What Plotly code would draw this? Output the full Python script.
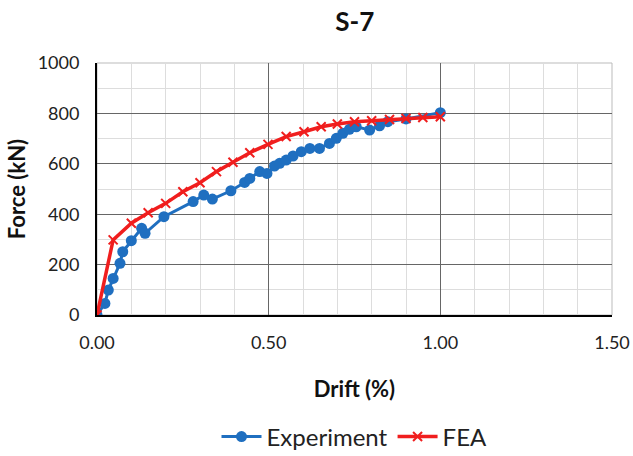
import plotly.graph_objects as go

exp_drift = [0.0, 0.023, 0.033, 0.047, 0.067, 0.075, 0.10, 0.13, 0.14, 0.195, 0.28,
             0.311, 0.336, 0.39, 0.43, 0.445, 0.474, 0.495, 0.517, 0.532, 0.551, 0.571,
             0.595, 0.62, 0.648, 0.677, 0.697, 0.716, 0.735, 0.755, 0.794, 0.823, 0.847,
             0.90, 1.0]
exp_force = [0, 46, 99, 145, 205, 251, 295, 344, 324, 390, 450,
             476, 460, 493, 526, 542, 569, 562, 591, 602, 615, 631,
             648, 661, 661, 681, 701, 721, 737, 747, 734, 751, 767,
             778, 803]

fea_drift = [0.0, 0.047, 0.10, 0.149, 0.20, 0.25, 0.30, 0.348, 0.396, 0.445, 0.498,
             0.551, 0.603, 0.653, 0.70, 0.75, 0.80, 0.852, 0.90, 0.949, 1.0]
fea_force = [0, 298, 364, 406, 443, 489, 525, 569, 606, 644, 677,
             708, 727, 747, 758, 767, 771, 776, 780, 784, 787]

x_ticks = [0.0, 0.5, 1.0, 1.5]
x_tick_labels = ["0.00", "0.50", "1.00", "1.50"]
y_ticks = [0, 200, 400, 600, 800, 1000]

FONT = "Lato, Carlito, Calibri, 'Open Sans', sans-serif"
BLUE = "#1f6fc0"
RED = "#f01e1e"

fig = go.Figure()
fig.add_trace(go.Scatter(
    x=exp_drift, y=exp_force, name="Experiment", mode="lines+markers",
    line=dict(color=BLUE, width=3),
    marker=dict(symbol="circle", size=11, color=BLUE),
))
fig.add_trace(go.Scatter(
    x=fea_drift, y=fea_force, name="FEA", mode="lines+markers",
    line=dict(color=RED, width=3.5),
    marker=dict(symbol="x-thin", size=9, color=RED, line=dict(color=RED, width=2)),
))

fig.update_layout(
    width=633, height=456,
    margin=dict(l=97, r=21, t=63, b=141, autoexpand=False),
    paper_bgcolor="white", plot_bgcolor="white",
    font=dict(family=FONT, size=18, color="#222222"),
    title=dict(text="<b>S-7</b>", x=0.5605, xanchor="center",
               y=1 - 22 / 456, yanchor="middle", font=dict(size=26, color="#111111")),
    showlegend=True,
    legend=dict(orientation="h", x=0.5, xanchor="center", xref="paper",
                y=-0.484, yanchor="middle", font=dict(size=24, color="#222222"),
                bgcolor="rgba(0,0,0,0)", itemwidth=40),
)
fig.update_xaxes(
    range=[0, 1.5], tickvals=x_ticks, ticktext=x_tick_labels, automargin=False,
    showgrid=True, gridcolor="#666666", gridwidth=1,
    minor=dict(dtick=0.1, showgrid=True, gridcolor="#dddddd", gridwidth=1),
    showline=True, linecolor="black", linewidth=2, mirror=False,
    zeroline=False, ticks="", ticklabelstandoff=10,
    title=dict(text="<b>Drift (%)</b>", font=dict(size=22, color="#111111"), standoff=30),
)
fig.update_yaxes(
    range=[0, 1000], tickvals=y_ticks, automargin=False,
    showgrid=True, gridcolor="#666666", gridwidth=1,
    minor=dict(dtick=100, showgrid=True, gridcolor="#dddddd", gridwidth=1),
    showline=True, linecolor="black", linewidth=2,
    zeroline=False, ticks="", ticklabelstandoff=12,
    title=dict(text="<b>Force (kN)</b>", font=dict(size=22, color="#111111"), standoff=6),
)
fig.add_shape(type="rect", xref="paper", yref="paper", x0=0, y0=0, x1=1, y1=1,
              line=dict(color="#bbbbbb", width=1), layer="below")

fig.write_html("out.html")
